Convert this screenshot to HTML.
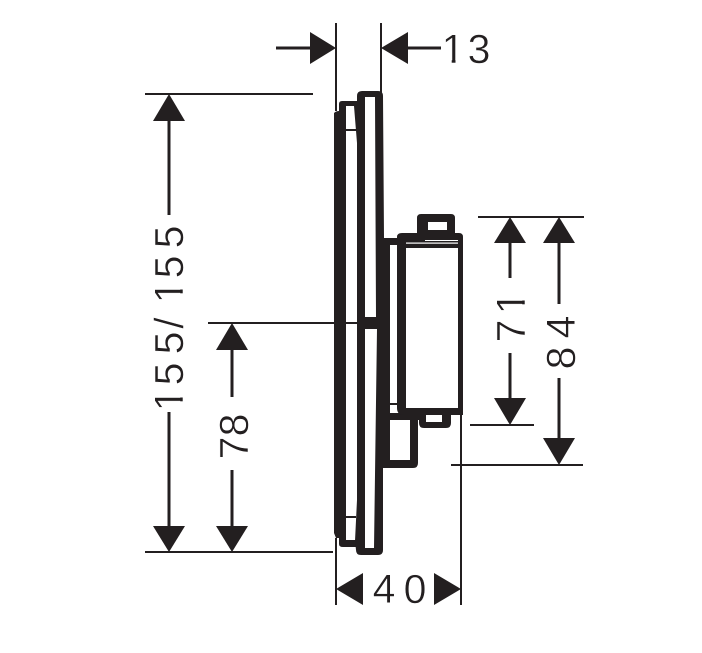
<!DOCTYPE html>
<html>
<head>
<meta charset="utf-8">
<style>
html,body{margin:0;padding:0;background:#fff;width:702px;height:653px;overflow:hidden}
svg{display:block}
text{font-family:"Liberation Sans",sans-serif;font-size:41px;fill:#231f20;text-anchor:middle;stroke:#fff;stroke-width:.5px}
</style>
</head>
<body>
<svg width="702" height="653" viewBox="0 0 702 653" xmlns="http://www.w3.org/2000/svg">
<g stroke="#231f20" stroke-width="2" fill="none">
  <path d="M336 23V111M381 23V93"/>
  <path d="M336 538V605M461 415V605"/>
  <path d="M145 94H313M145 552H333M208 323H357"/>
  <path d="M478 217H584M470 425H534M451 465H583"/>
</g>
<g stroke="#231f20" stroke-width="3" fill="none">
  <path d="M276 48H312M406 48H441"/>
  <path d="M169 120V215M169 412V528"/>
  <path d="M232 348V397M232 470V528"/>
  <path d="M510 241V278M510 353V400"/>
  <path d="M559 241V304M559 378V440"/>
</g>
<g fill="#231f20">
  <path d="M310 32L336 48L310 64Z"/>
  <path d="M408 32L381 48L408 64Z"/>
  <path d="M169 94L185 121H153Z"/>
  <path d="M169 552L185 526H153Z"/>
  <path d="M232 323L248 350H216Z"/>
  <path d="M232 552L248 526H216Z"/>
  <path d="M510 217L526 243H494Z"/>
  <path d="M510 425L526 398H494Z"/>
  <path d="M559 217L575 243H543Z"/>
  <path d="M559 465L575 438H543Z"/>
  <path d="M336 589L363 573V605Z"/>
  <path d="M461 589L434 573V605Z"/>
</g>
<!-- Plate -->
<g fill="#231f20">
  <path d="M334 113Q336 111 339 111V104Q339 101 342 101H358V106H346V517H346V540H358V547H343Q339 547 339 544V538H336L334 533Z"/>
  <rect x="345" y="129" width="11" height="2"/>
  <rect x="345" y="516" width="11" height="2"/>
  <path fill-rule="evenodd" d="M362 91H378Q383 91 383 96L384 238H390V403H397V405H390V413H397V420H390V460H383L383 550Q383 555 378 555H361Q356 555 356 550L355 541L357 500V143L354 106H357V96Q357 91 362 91ZM365 97V317H376L375 97ZM365 329V548H374L377 329Z"/>
  <path d="M383 238H398V245H383Z"/>
  <path d="M388 460H410V418H418V463Q418 468 413 468H383V460Z"/>
  <rect x="390" y="413" width="29" height="7"/>
</g>
<!-- Module -->
<g fill="#231f20">
  <path fill-rule="evenodd" d="M402 233H459Q463 233 463 237V415H404Q397 415 397 408V237Q397 233 402 233ZM406 248V408H458V248Z"/>
  <rect x="406" y="242.500" width="52" height="1.200" fill="#fff"/>
  <rect x="425" y="240" width="33" height="1" fill="#fff"/>
  <path fill-rule="evenodd" d="M421 214H451Q455 214 455 218V233H417V218Q417 214 421 214ZM428 222V230H447V222Z"/>
  <path fill-rule="evenodd" d="M419 415H451V423Q451 428 446 428H424Q419 428 419 423ZM426 415V422H442V415Z"/>
</g>
<!-- Labels -->
<g><text x="453" y="63">1</text><rect x="442" y="59.500" width="9.700" height="5" fill="#fff"/><rect x="455.500" y="59.500" width="10" height="5" fill="#fff"/></g>
<text x="479" y="63">3</text>
<text x="384" y="603">4</text>
<text x="415" y="603">0</text>
<g transform="translate(183 400) rotate(-90)"><text>1</text><rect x="-11" y="-3.500" width="9.700" height="5" fill="#fff"/><rect x="2.500" y="-3.500" width="10" height="5" fill="#fff"/></g>
<text transform="translate(183 374) rotate(-90)">5</text>
<text transform="translate(183 343) rotate(-90)">5</text>
<text transform="translate(183 323) rotate(-90)">/</text>
<g transform="translate(183 292) rotate(-90)"><text>1</text><rect x="-11" y="-3.500" width="9.700" height="5" fill="#fff"/><rect x="2.500" y="-3.500" width="10" height="5" fill="#fff"/></g>
<text transform="translate(183 267) rotate(-90)">5</text>
<text transform="translate(183 237) rotate(-90)">5</text>
<text transform="translate(248 448) rotate(-90)">7</text>
<text transform="translate(248 425) rotate(-90)">8</text>
<text transform="translate(525 331) rotate(-90)">7</text>
<g transform="translate(525 303) rotate(-90)"><text>1</text><rect x="-11" y="-3.500" width="9.700" height="5" fill="#fff"/><rect x="2.500" y="-3.500" width="10" height="5" fill="#fff"/></g>
<text transform="translate(575 358) rotate(-90)">8</text>
<text transform="translate(575 327) rotate(-90)">4</text>
</svg>
</body>
</html>
